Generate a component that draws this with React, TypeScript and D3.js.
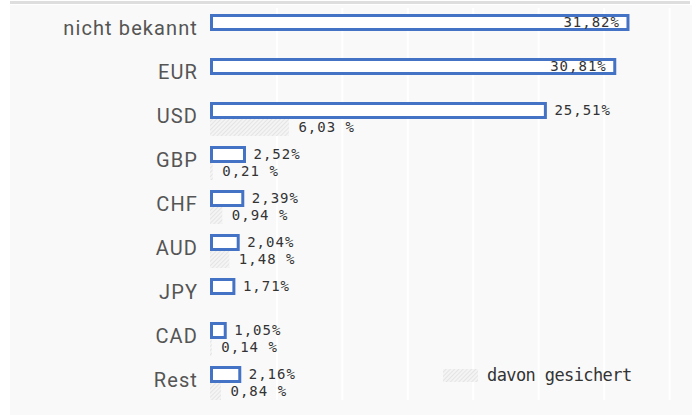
import React from "react";
import * as d3 from "d3";

const categories = ["nicht bekannt", "EUR", "USD", "GBP", "CHF", "AUD", "JPY", "CAD", "Rest"];
const totalValues = [31.82, 30.81, 25.51, 2.52, 2.39, 2.04, 1.71, 1.05, 2.16];
const hedgedValues: (number | null)[] = [null, null, 6.03, 0.21, 0.94, 1.48, null, 0.14, 0.84];
const gridTicks = [5, 10, 15, 20, 25, 30, 35];
const legendLabel = "davon gesichert";

const fmt = (v: number) => v.toFixed(2).replace(".", ",");

export default function App() {
  const W = 696;
  const H = 415;
  const x = d3.scaleLinear().domain([0, 35]).range([211.5, 669.6]);
  const y = d3.scaleBand().domain(categories).range([14, 14 + 44 * categories.length]);
  const barH = 17;
  const blue = "#4472c4";
  const mono = "'DejaVu Sans Mono', monospace";

  return (
    <svg width={W} height={H} style={{ position: "absolute", left: 0, top: 0, background: "#fff" }}>
      <defs>
        <pattern id="hatch" patternUnits="userSpaceOnUse" width={3} height={3} patternTransform="rotate(45)">
          <rect width={3} height={3} fill="#f4f4f4" />
          <line x1={0} y1={0} x2={0} y2={3} stroke="#d4d4d4" strokeWidth={1} />
        </pattern>
      </defs>
      <rect x={10} y={5} width={682} height={H - 5} fill="#f9f9f9" />
      <rect x={10} y={1} width={680} height={3} fill="#dedede" />
      {gridTicks.map((t) => (
        <line key={t} x1={x(t)} x2={x(t)} y1={8} y2={400} stroke="#ffffff" strokeWidth={2} />
      ))}
      {categories.map((c, i) => {
        const top = y(c)!;
        const v = totalValues[i];
        const h = hedgedValues[i];
        const inside = v > 30;
        return (
          <g key={c}>
            <text
              x={198}
              y={top + 21}
              textAnchor="end"
              fontFamily="Roboto, sans-serif"
              fontSize={20}
              letterSpacing={1.1}
              fill="#555"
            >
              {c}
            </text>
            {h !== null && (
              <rect x={x(0) - 1.5} y={top + barH} width={x(h) - x(0)} height={barH} fill="url(#hatch)" />
            )}
            <rect
              x={x(0)}
              y={top + 1.5}
              width={x(v) - x(0)}
              height={barH - 3}
              fill="#fff"
              stroke={blue}
              strokeWidth={3}
            />
            <text
              x={inside ? x(v) - 8 : x(v) + 9}
              y={top + 13}
              textAnchor={inside ? "end" : "start"}
              fontFamily={mono}
              fontSize={14}
              letterSpacing={1}
              fill="#333"
            >
              {fmt(v) + "%"}
            </text>
            {h !== null && (
              <text
                x={x(h) + 8}
                y={top + 30}
                fontFamily={mono}
                fontSize={14}
                letterSpacing={1}
                fill="#333"
              >
                {fmt(h) + " %"}
              </text>
            )}
          </g>
        );
      })}
      <rect x={443} y={369} width={35} height={13} fill="url(#hatch)" />
      <text x={487} y={381} fontFamily={mono} fontSize={17} letterSpacing={-0.6} fill="#333">
        {legendLabel}
      </text>
    </svg>
  );
}
